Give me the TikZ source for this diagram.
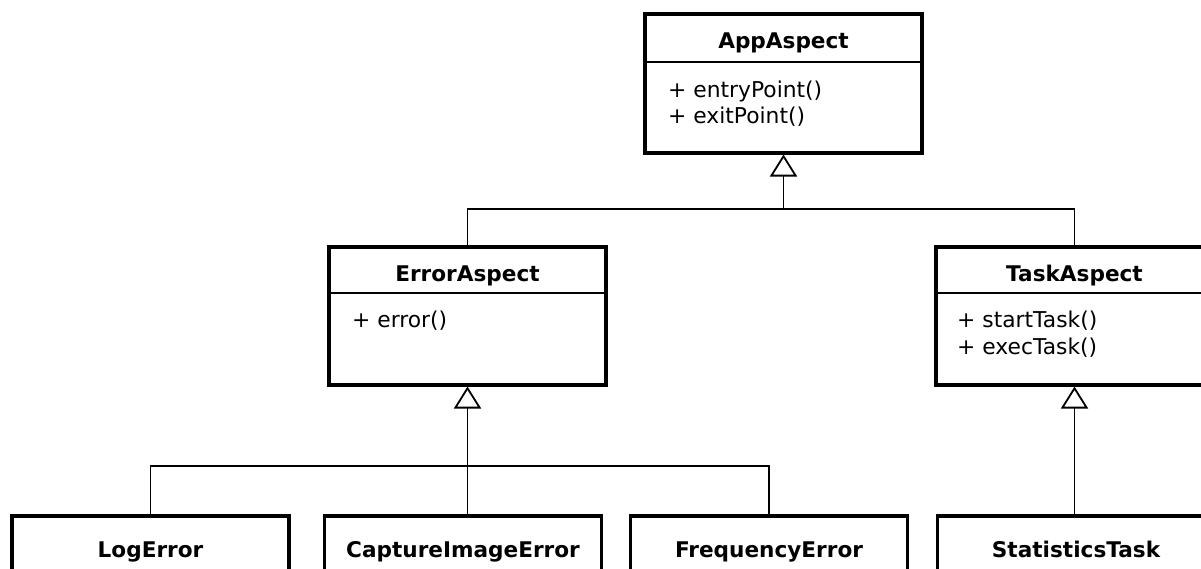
\documentclass[tikz,border=0pt]{standalone}
\usepackage{fontspec}
\setmainfont{DejaVu Sans}
\usetikzlibrary{arrows.meta}
\begin{document}
\begin{tikzpicture}[x=1pt,y=-1pt,
  box/.style={draw=black, line width=3.5pt, fill=white, minimum width=277pt, inner sep=0pt, anchor=north},
  sep/.style={line width=1.5pt},
  conn/.style={line width=1.8pt},
  inh/.style={conn, -{Triangle[open, length=22pt, width=27pt, line width=1.8pt]}},
  title/.style={anchor=base, font=\fontsize{21.6}{25}\selectfont\bfseries, inner sep=0pt},
  member/.style={anchor=base west, font=\fontsize{21.8}{25}\selectfont, inner sep=0pt}]
\useasboundingbox (0,0) rectangle (1201,568);
\clip (0,0) rectangle (1201,568);
\fill[white] (0,0) rectangle (1201,568);

% class boxes
\node[box, minimum height=139pt] (app) at (783.5,12) {};
\node[box, minimum height=138pt] (err) at (467.5,245) {};
\node[box, minimum height=138pt] (task) at (1074.5,245) {};
\node[box, minimum height=100pt] (log) at (150.5,514) {};
\node[box, minimum height=100pt] (cap) at (463,514) {};
\node[box, minimum height=100pt] (freq) at (769,514) {};
\node[box, minimum height=100pt] (stat) at (1076,514) {};

% compartment separators
\draw[sep] (app.west |- 0,62) -- (app.east |- 0,62);
\draw[sep] (err.west |- 0,293) -- (err.east |- 0,293);
\draw[sep] (task.west |- 0,293) -- (task.east |- 0,293);

% titles
\node[title] (tapp) at (783.5,48) {AppAspect};
\node[title] (terr) at (467.5,281) {ErrorAspect};
\node[title] (ttask) at (1074.5,281) {TaskAspect};
\node[title] (tlog) at (150.5,557) {LogError};
\node[title] (tcap) at (463,557) {CaptureImageError};
\node[title] (tfreq) at (769,557) {FrequencyError};
\node[title] (tstat) at (1076,557) {StatisticsTask};

% members
\node[member] (m1) at (668,97) {+ entryPoint()};
\node[member] (m2) at (668,123) {+ exitPoint()};
\node[member] (m3) at (352,327) {+ error()};
\node[member] (m4) at (957,327) {+ startTask()};
\node[member] (m5) at (957,354) {+ execTask()};

% generalization connectors
\coordinate (busA) at (783.5,209);
\coordinate (busB) at (467.5,466);
\draw[conn] (err.north) |- (busA) -| (task.north);
\draw[inh] (busA) -- (app.south);
\draw[conn] (log.north) |- (busB) -| (freq.north);
\draw[conn] (busB) -- (busB |- cap.north);
\draw[inh] (busB) -- (err.south);
\draw[inh] (task.south |- stat.north) -- (task.south);
\end{tikzpicture}
\end{document}
